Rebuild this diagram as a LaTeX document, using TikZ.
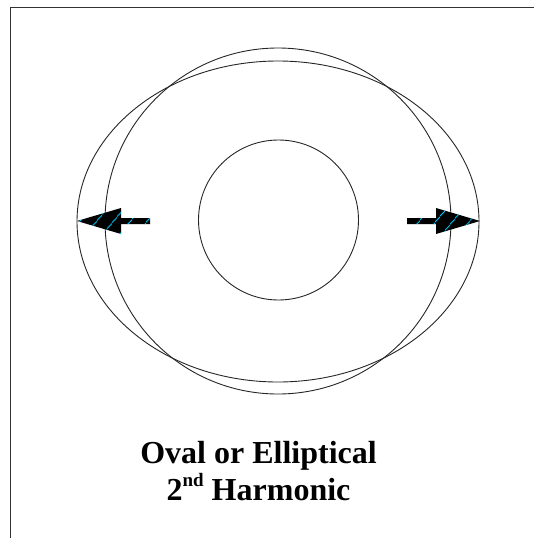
\documentclass[tikz,border=0pt]{standalone}
\usepackage{fontspec}
\setmainfont{Liberation Serif}
\usetikzlibrary{patterns.meta}
\begin{document}
\begin{tikzpicture}[x=1pt,y=-1pt,
  frame/.style={draw=black!80, line width=1pt},
  curve/.style={draw=black!85, line width=0.9pt},
  arrowbody/.style={fill=black},
  hatch/.style={pattern={Lines[angle=50,distance=13pt,line width=0.9pt]}, pattern color=cyan!80!blue},
  label/.style={font=\bfseries\fontsize{32}{37.5}\selectfont, anchor=base, inner sep=0pt}]
\useasboundingbox (0,0) rectangle (534,538);
\draw[frame] (10,538) -- (10,7) -- (534,7);
\coordinate (c) at (278,221);
\draw[curve] (c) circle [radius=173pt];
\draw[curve] (278,221.5) ellipse [x radius=201pt, y radius=160.5pt];
\draw[curve] (278.5,220) circle [radius=80pt];
% left arrow
\path[arrowbody] (77,221) -- (121,208) -- (121,218) -- (150,218) -- (150,224) -- (121,224) -- (121,234) -- cycle;
\path[hatch] (77,221) -- (121,208) -- (121,218) -- (150,218) -- (150,224) -- (121,224) -- (121,234) -- cycle;
% right arrow
\path[arrowbody] (480,221) -- (436,208) -- (436,218) -- (407,218) -- (407,224) -- (436,224) -- (436,234) -- cycle;
\path[hatch] (480,221) -- (436,208) -- (436,218) -- (407,218) -- (407,224) -- (436,224) -- (436,234) -- cycle;
\node[label] (t1) at (258.5,463) {Oval or Elliptical};
\node[label] (t2) at (258.5,500.5) {2\raisebox{0.45em}{\fontsize{19}{19}\selectfont nd} Harmonic};
\end{tikzpicture}
\end{document}
